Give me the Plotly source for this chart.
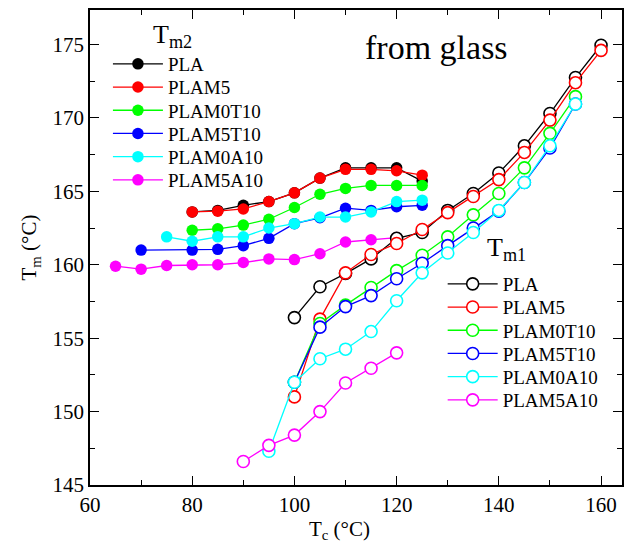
import plotly.graph_objects as go

# Sample names and colours
names = ["PLA", "PLAM5", "PLAM0T10", "PLAM5T10", "PLAM0A10", "PLAM5A10"]
colors = ["#000000", "#FF0000", "#00FF00", "#0000FF", "#00FFFF", "#FF00FF"]

# Tm2 (filled symbols): crystallization temperature Tc and melting peak Tm2
tc_m2 = [
    [80, 85, 90, 95, 100, 105, 110, 115, 120, 125],
    [80, 85, 90, 95, 100, 105, 110, 115, 120, 125],
    [80, 85, 90, 95, 100, 105, 110, 115, 120, 125],
    [70, 80, 85, 90, 95, 100, 105, 110, 115, 120, 125],
    [75, 80, 85, 90, 95, 100, 105, 110, 115, 120, 125],
    [65, 70, 75, 80, 85, 90, 95, 100, 105, 110, 115, 120],
]
tm2_pla = [163.6, 163.7, 164.05, 164.3, 164.9, 165.9, 166.6, 166.6, 166.6, 165.7]
tm2_plam5 = [163.6, 163.65, 163.8, 164.3, 164.9, 165.9, 166.5, 166.5, 166.4, 166.1]
tm2_plam0t10 = [162.35, 162.45, 162.7, 163.1, 163.9, 164.8, 165.2, 165.4, 165.4, 165.4]
tm2_plam5t10 = [161.0, 161.0, 161.05, 161.3, 161.8, 162.8, 163.2, 163.85, 163.7, 163.95, 164.05]
tm2_plam0a10 = [161.9, 161.6, 161.9, 161.9, 162.5, 162.8, 163.25, 163.25, 163.6, 164.3, 164.4]
tm2_plam5a10 = [159.9, 159.7, 159.95, 160.0, 160.0, 160.15, 160.4, 160.35, 160.75, 161.55, 161.7, 161.85]
tm2 = [tm2_pla, tm2_plam5, tm2_plam0t10, tm2_plam5t10, tm2_plam0a10, tm2_plam5a10]

# Tm1 (open symbols)
tc_m1 = [
    [100, 105, 110, 115, 120, 125, 130, 135, 140, 145, 150, 155, 160],
    [100, 105, 110, 115, 120, 125, 130, 135, 140, 145, 150, 155, 160],
    [100, 105, 110, 115, 120, 125, 130, 135, 140, 145, 150, 155],
    [100, 105, 110, 115, 120, 125, 130, 135, 140, 145, 150, 155],
    [95, 100, 105, 110, 115, 120, 125, 130, 135, 140, 145, 150, 155],
    [90, 95, 100, 105, 110, 115, 120],
]
tm1_pla = [156.4, 158.5, 159.4, 160.4, 161.8, 162.2, 163.7, 164.85, 166.25, 168.1, 170.3, 172.75, 174.95]
tm1_plam5 = [151.0, 156.3, 159.45, 160.7, 161.45, 162.4, 163.55, 164.65, 165.8, 167.65, 169.85, 172.4, 174.6]
tm1_plam0t10 = [152.0, 156.0, 157.25, 158.45, 159.6, 160.65, 161.9, 163.4, 164.85, 166.6, 168.95, 171.45]
tm1_plam5t10 = [152.0, 155.75, 157.15, 157.9, 159.05, 160.1, 161.3, 162.5, 163.65, 165.6, 167.95, 170.95]
tm1_plam0a10 = [147.3, 152.0, 153.6, 154.25, 155.45, 157.55, 159.45, 160.8, 162.2, 163.7, 165.6, 168.1, 170.95]
tm1_plam5a10 = [146.6, 147.7, 148.4, 150.0, 151.95, 152.95, 154.0]
tm1 = [tm1_pla, tm1_plam5, tm1_plam0t10, tm1_plam5t10, tm1_plam0a10, tm1_plam5a10]

FONT = "Liberation Serif"

# Plot area in pixels (used to place legends/annotations in paper units)
PL, PR, PT, PB = 90, 624, 10, 485


def px_x(px):
    return (px - PL) / (PR - PL)


def px_y(py):
    return (PB - py) / (PB - PT)


fig = go.Figure()
legends = {}

# One single-entry legend per trace gives the tight row spacing of the key
for i, (name, col, xs, ys) in enumerate(zip(names, colors, tc_m2, tm2)):
    key = "legend" if i == 0 else f"legend{i + 1}"
    fig.add_trace(go.Scatter(
        x=xs, y=ys, name=name, mode="lines+markers", legend=key,
        line=dict(color=col, width=1.3),
        marker=dict(symbol="circle", size=11.5, color=col, line=dict(width=0)),
    ))
    legends[key] = dict(x=px_x(108), y=px_y(64 + 23.2 * i))

for i, (name, col, xs, ys) in enumerate(zip(names, colors, tc_m1, tm1)):
    key = f"legend{i + 7}"
    fig.add_trace(go.Scatter(
        x=xs, y=ys, name=name, mode="lines+markers", legend=key,
        line=dict(color=col, width=1.3),
        marker=dict(symbol="circle", size=12, color="white",
                    line=dict(color=col, width=1.6)),
    ))
    legends[key] = dict(x=px_x(444), y=px_y(284 + 23.2 * i))

for key, pos in legends.items():
    fig.update_layout({key: dict(
        x=pos["x"], y=pos["y"], xanchor="left", yanchor="middle",
        bgcolor="rgba(0,0,0,0)", borderwidth=0,
        font=dict(family=FONT, size=19, color="black"),
        itemwidth=50,
    )})

axis_common = dict(
    showline=True, linecolor="black", linewidth=1.5, mirror="ticks",
    ticks="inside", ticklen=9, tickwidth=1.3, tickcolor="black",
    showgrid=False, zeroline=False,
    tickfont=dict(family=FONT, size=21, color="black"),
)

fig.update_layout(
    width=624, height=550,
    showlegend=True,
    margin=dict(l=PL, r=624 - PR, t=PT, b=550 - PB),
    paper_bgcolor="white", plot_bgcolor="white",
    font=dict(family=FONT, color="black"),
    xaxis=dict(
        range=[60, 164.1], dtick=20, tick0=60,
        minor=dict(dtick=10, ticks="inside", ticklen=5, tickwidth=1.3, tickcolor="black"),
        **axis_common,
    ),
    yaxis=dict(
        range=[145, 177.35], dtick=5, tick0=145,
        minor=dict(dtick=2.5, ticks="inside", ticklen=5, tickwidth=1.3, tickcolor="black"),
        title=dict(text="T<sub>m</sub> (°C)", font=dict(family=FONT, size=21), standoff=10),
        **axis_common,
    ),
    annotations=[
        dict(text="T<sub>m2</sub>", x=px_x(151), y=px_y(36),
             xref="paper", yref="paper", xanchor="left", yanchor="middle",
             showarrow=False, font=dict(family=FONT, size=26, color="black")),
        dict(text="T<sub>m1</sub>", x=px_x(486), y=px_y(249),
             xref="paper", yref="paper", xanchor="left", yanchor="middle",
             showarrow=False, font=dict(family=FONT, size=26, color="black")),
        dict(text="from glass", x=px_x(438), y=px_y(48),
             xref="paper", yref="paper", xanchor="center", yanchor="middle",
             showarrow=False, font=dict(family=FONT, size=34, color="black")),
        dict(text="T<sub>c</sub> (°C)", x=px_x(340), y=px_y(530),
             xref="paper", yref="paper", xanchor="center", yanchor="middle",
             showarrow=False, font=dict(family=FONT, size=21, color="black")),
    ],
)

fig.write_html("out.html")
